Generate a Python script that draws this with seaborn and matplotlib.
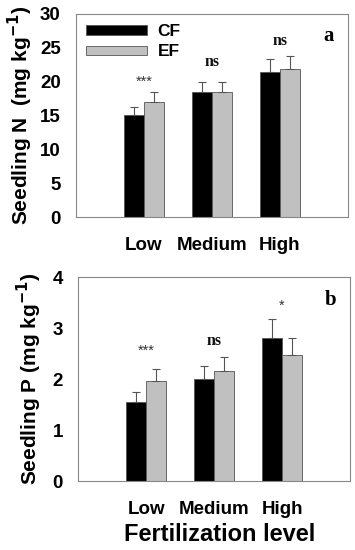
import numpy as np
import pandas as pd
import seaborn as sns
import matplotlib.pyplot as plt
from matplotlib.patches import Patch
from matplotlib.font_manager import FontProperties

# Dane
LEVELS = ["Low", "Medium", "High"]
TREATMENTS = ["CF", "EF"]

n_cf = [15.1, 18.4, 21.4]
n_ef = [17.0, 18.4, 21.8]
n_cf_err = [1.2, 1.6, 1.9]
n_ef_err = [1.5, 1.6, 1.9]
n_signif = ["***", "ns", "ns"]
n_signif_y = [19.0, 21.7, 24.8]

p_cf = [1.56, 2.00, 2.80]
p_ef = [1.96, 2.16, 2.47]
p_cf_err = [0.18, 0.26, 0.39]
p_ef_err = [0.25, 0.27, 0.33]
p_signif = ["***", "ns", "*"]
p_signif_y = [2.43, 2.60, 3.31]

COLORS = {"CF": "#000000", "EF": "#c0c0c0"}
SANS = "Liberation Sans"
SERIF = "Liberation Serif"


def make_df(cf, ef, cf_err, ef_err):
    rows = []
    for i, lvl in enumerate(LEVELS):
        rows.append({"Level": lvl, "Trt": "CF", "Value": cf[i], "Err": cf_err[i]})
        rows.append({"Level": lvl, "Trt": "EF", "Value": ef[i], "Err": ef_err[i]})
    return pd.DataFrame(rows)


def draw_panel(ax, df, ylim, yticks, ylabel, label_x, signif, signif_y, letter):
    sns.barplot(data=df, x="Level", y="Value", hue="Trt", order=LEVELS,
                hue_order=TREATMENTS, palette=COLORS, width=0.6,
                edgecolor="#555555", linewidth=0.6, errorbar=None,
                legend=False, ax=ax)
    # slupki bledow tylko do gory
    for trt, bars in zip(TREATMENTS, ax.containers):
        sub = df[df["Trt"] == trt].set_index("Level").loc[LEVELS]
        xs = [b.get_x() + b.get_width() / 2 for b in bars]
        ax.errorbar(xs, sub["Value"], yerr=[np.zeros(len(xs)), sub["Err"]],
                    fmt="none", ecolor="#555555", elinewidth=0.8,
                    capsize=3, capthick=0.8)
    for i, (s, y) in enumerate(zip(signif, signif_y)):
        if s == "ns":
            ax.text(i, y, s, ha="center", va="bottom", fontsize=11.5,
                    fontweight="bold", family=SERIF, color="#111111")
        else:
            ax.text(i, y, s, ha="center", va="bottom", fontsize=10.5,
                    family=SANS, color="#333333")
    ax.text(0.93, 0.89, letter, transform=ax.transAxes, ha="center",
            va="center", fontsize=15, fontweight="bold", family=SERIF,
            color="black")
    ax.set_xlim(-1, 3)
    ax.set_ylim(*ylim)
    ax.set_yticks(yticks)
    ax.set_ylabel(ylabel, fontsize=15, fontweight="bold", family=SANS,
                  color="black")
    ax.yaxis.set_label_coords(label_x, 0.5)
    ax.set_xlabel("")
    ax.tick_params(axis="y", labelsize=13.5, length=3, width=0.6,
                   color="#777777", labelcolor="black", pad=8)
    ax.tick_params(axis="x", labelsize=13.5, length=2, width=0.6,
                   color="#777777", labelcolor="black", pad=12)
    for lab in ax.get_xticklabels() + ax.get_yticklabels():
        lab.set_fontweight("bold")
        lab.set_family(SANS)
    for sp in ax.spines.values():
        sp.set_visible(True)
        sp.set_color("#888888")
        sp.set_linewidth(0.8)


sns.set_style("white")
plt.rcParams["font.family"] = [SANS, "DejaVu Sans"]
plt.rcParams["text.color"] = "black"

fig = plt.figure(figsize=(3.55, 5.5), dpi=100)
ax1 = fig.add_axes([0.214, 0.605, 0.766, 0.370])
ax2 = fig.add_axes([0.220, 0.125, 0.766, 0.371])

draw_panel(ax1, make_df(n_cf, n_ef, n_cf_err, n_ef_err), (0, 30),
           [0, 5, 10, 15, 20, 25, 30], "Seedling N  (mg kg$^{\\mathbf{-1}}$)",
           -0.15, n_signif, n_signif_y, "a")
draw_panel(ax2, make_df(p_cf, p_ef, p_cf_err, p_ef_err), (0, 4),
           [0, 1, 2, 3, 4], "Seedling P (mg kg$^{\\mathbf{-1}}$)",
           -0.125, p_signif, p_signif_y, "b")
ax2.set_xlabel("Fertilization level", fontsize=17, fontweight="bold",
               family=SANS, color="black")
ax2.xaxis.set_label_coords(0.52, -0.205)

handles = [Patch(facecolor=COLORS[t], edgecolor="#555555", linewidth=0.6,
                 label=t) for t in TREATMENTS]
leg_font = FontProperties(family=SANS, weight="bold", size=12.5)
leg = ax1.legend(handles=handles, loc="upper left", frameon=False,
                 handlelength=3.5, handleheight=0.45, handletextpad=0.6,
                 labelspacing=0.3, borderaxespad=0.2, prop=leg_font,
                 labelcolor="black")

fig.savefig("out.png", dpi=100)
